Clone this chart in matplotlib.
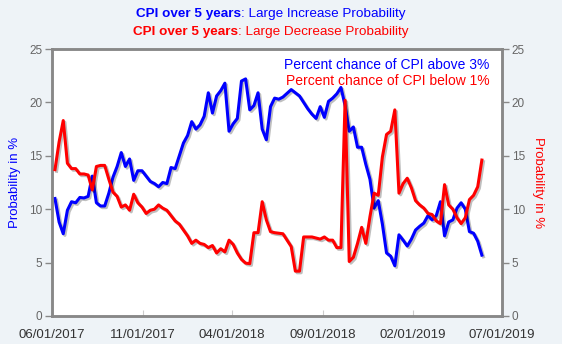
import matplotlib
matplotlib.use("Agg")
import matplotlib.pyplot as plt
import matplotlib.dates as mdates
import matplotlib.patheffects as pe
import pandas as pd

plt.rcParams["font.family"] = ["Liberation Sans", "DejaVu Sans"]

# weekly readings, first week starting 2017-06-06
dates = pd.date_range("2017-06-06", periods=104, freq="7D")

above_3 = [
    11.0, 8.8, 7.7, 9.9, 10.7, 10.6, 11.1, 11.05, 11.2, 13.1,
    10.6, 10.3, 10.3, 11.5, 13.0, 14.0, 15.3, 14.0, 14.7, 12.7,
    13.6, 13.6, 13.1, 12.6, 12.4, 12.1, 12.5, 12.4, 13.9, 13.8,
    15.0, 16.2, 16.9, 18.2, 17.5, 17.9, 18.7, 20.9, 19.0, 20.6,
    21.1, 21.8, 17.3, 18.0, 18.5, 22.0, 22.2, 19.3, 19.7, 20.9,
    17.5, 16.5, 19.6, 20.4, 20.3, 20.5, 20.85, 21.2, 20.9, 20.6,
    20.0, 19.4, 18.9, 18.5, 19.6, 18.6, 20.1, 20.4, 20.8, 21.4,
    19.7, 17.3, 17.7, 15.8, 15.8, 14.2, 12.8, 10.1, 10.8, 8.6,
    5.9, 5.6, 4.7, 7.6, 7.1, 6.55, 7.2, 8.05, 8.4, 8.7,
    9.4, 9.0, 9.4, 10.7, 7.5, 8.8, 9.0, 10.1, 10.6, 10.0,
    7.9, 7.75, 7.0, 5.7,
]

below_1 = [
    13.7, 16.3, 18.3, 14.3, 13.8, 13.8, 13.3, 13.3, 13.2, 11.8,
    14.0, 14.1, 14.1, 12.8, 11.6, 11.2, 10.2, 10.4, 9.9, 11.4,
    10.6, 10.2, 9.6, 9.9, 10.0, 10.4, 10.1, 9.9, 9.4, 8.9,
    8.6, 8.05, 7.5, 6.8, 7.1, 6.8, 6.7, 6.4, 6.6, 5.9,
    6.3, 6.0, 7.1, 6.7, 5.9, 5.3, 4.95, 4.9, 7.8, 7.8,
    10.7, 9.0, 7.9, 7.8, 7.75, 7.7, 7.1, 6.5, 4.2, 4.2,
    7.4, 7.4, 7.4, 7.3, 7.2, 7.4, 7.1, 7.1, 6.4, 6.4,
    20.2, 5.1, 5.5, 6.8, 8.3, 6.8, 9.3, 11.5, 11.3, 14.9,
    17.0, 17.3, 19.3, 11.5, 12.4, 12.9, 12.0, 10.8, 10.4, 10.1,
    9.6, 9.5, 8.9, 8.65, 12.3, 10.4, 10.0, 9.2, 8.65, 9.2,
    10.9, 11.3, 12.1, 14.6,
]

tick_dates = ["2017-06-01", "2017-11-01", "2018-04-01",
              "2018-09-01", "2019-02-01", "2019-07-01"]

bg = "#eef3f7"
frame = "#888888"

fig = plt.figure(figsize=(5.62, 3.44), dpi=100, facecolor=bg)
ax = fig.add_axes([52 / 562, 1 - 316 / 344, 450 / 562, 267 / 344])
ax2 = ax.twinx()

shadow = [pe.SimpleLineShadow(offset=(1.2, -1.2), alpha=0.25, shadow_color="black"),
          pe.Normal()]
ax.plot(dates, above_3, color="#0000ff", lw=2.2, path_effects=shadow, zorder=3)
ax2.plot(dates, below_1, color="#ff0000", lw=2.2, path_effects=shadow, zorder=3)

for a in (ax, ax2):
    a.set_ylim(0, 25)
    a.set_yticks([0, 5, 10, 15, 20, 25])
    a.set_xlim(pd.Timestamp("2017-06-01"), pd.Timestamp("2019-07-01"))
    for s in a.spines.values():
        s.set_color(frame)
        s.set_linewidth(1.8)
    a.tick_params(axis="y", colors=frame, labelcolor="#666666", labelsize=8.5,
                  length=5, width=1, pad=2)

ax.set_facecolor("white")
ax.set_xticks([pd.Timestamp(d) for d in tick_dates])
ax.xaxis.set_major_formatter(mdates.DateFormatter("%m/%d/%Y"))
ax.tick_params(axis="x", direction="in", colors="#cccccc", labelcolor="#333333",
               labelsize=9.5, length=4, pad=9)

ax.set_ylabel("Probability in %", color="#0000ff", fontsize=9.5, labelpad=6)
ax2.set_ylabel("Probability in %", color="#ff0000", fontsize=9.5,
               rotation=270, labelpad=14)

ax.text(0.972, 0.94, "Percent chance of CPI above 3%", color="#0000ff",
        fontsize=10, ha="right", va="center", transform=ax.transAxes)
ax.text(0.972, 0.88, "Percent chance of CPI below 1%", color="#ff0000",
        fontsize=10, ha="right", va="center", transform=ax.transAxes)

# two-part titles: bold prefix + regular suffix, centred together
renderer = fig.canvas.get_renderer()
for y, rest, col in [(1 - 14 / 344, ": Large Increase Probability", "#0000ff"),
                     (1 - 32 / 344, ": Large Decrease Probability", "#ff0000")]:
    t1 = fig.text(0, y, "CPI over 5 years", color=col, fontsize=9.7,
                  fontweight="bold", va="center")
    t2 = fig.text(0, y, rest, color=col, fontsize=9.7, va="center")
    w1 = t1.get_window_extent(renderer).width / 562
    w2 = t2.get_window_extent(renderer).width / 562
    x0 = 271 / 562 - (w1 + w2) / 2
    t1.set_x(x0)
    t2.set_x(x0 + w1)

fig.savefig("out.png", dpi=100, facecolor=bg)
